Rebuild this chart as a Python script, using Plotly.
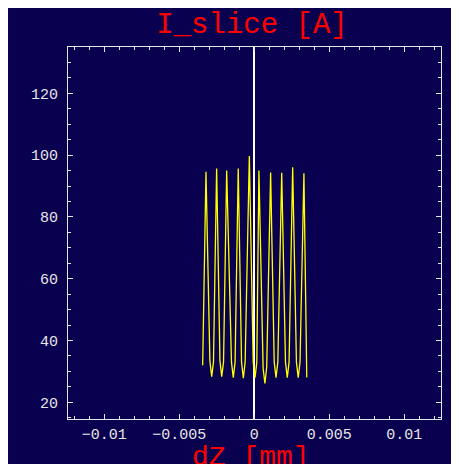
import plotly.graph_objects as go

# Data (peaks, trough bottoms and trough shoulders)
dz_mm = [-0.00344, -0.00322, -0.00296, -0.00284, -0.00272, -0.00251, -0.00229,
         -0.00217, -0.00205, -0.00184, -0.00152, -0.00140, -0.00128, -0.00107,
         -0.00085, -0.00073, -0.00061, -0.00033, -0.00007, 0.00005, 0.00017,
         0.00031, 0.00059, 0.00071, 0.00083, 0.00109, 0.00133, 0.00145,
         0.00157, 0.00183, 0.00208, 0.00220, 0.00232, 0.00256, 0.00281,
         0.00293, 0.00305, 0.00331, 0.00350]
i_slice = [32.0, 94.6, 33.5, 28.3, 33.0, 95.7, 33.5,
           28.3, 33.0, 95.0, 33.0, 28.0, 33.0, 95.7,
           33.0, 27.8, 33.0, 99.7, 33.0, 28.0, 33.0,
           95.0, 31.0, 26.1, 31.5, 94.4, 33.0, 28.0,
           33.0, 94.3, 33.0, 28.0, 33.0, 96.1, 33.0,
           28.0, 33.0, 94.1, 28.0]

x_tickvals = [-0.01, -0.005, 0, 0.005, 0.01]
x_ticktext = ["\u22120.01", "\u22120.005", "0", "0.005", "0.01"]
y_tickvals = [20, 40, 60, 80, 100, 120]
y_ticktext = ["20", "40", "60", "80", "100", "120"]

NAVY = "rgb(10,0,80)"
FRAME = "#e6e6e6"
OFF = 8  # page body margin
W, H = 459 - OFF, 464 - OFF
ML, MT = 68 - OFF, 47 - OFF
PW, PH = 373, 372
MR, MB = W - ML - PW, H - MT - PH

fig = go.Figure()
fig.add_trace(go.Scatter(x=dz_mm, y=i_slice, mode="lines",
                         line=dict(color="#ffff00", width=1.3),
                         hoverinfo="skip", showlegend=False))

tickfont = dict(family="Liberation Mono", size=15, color=FRAME)
fig.update_layout(
    width=W, height=H,
    margin=dict(l=ML, r=MR, t=MT, b=MB),
    paper_bgcolor=NAVY, plot_bgcolor=NAVY,
    title=dict(text="I_slice [A]", x=(252 - 68) / PW, xref="paper",
               xanchor="center", y=1 - (23 - OFF) / H, yref="container", yanchor="middle",
               font=dict(family="Liberation Mono", size=29, color="#ff0000")),
    xaxis=dict(range=[-0.01242, 0.01245], tickvals=x_tickvals, ticktext=x_ticktext,
               ticks="inside", ticklen=5, tickcolor=FRAME, tickwidth=1,
               showline=True, linecolor=FRAME, linewidth=1, mirror="allticks",
               showgrid=False, zeroline=True, zerolinecolor="#ffffff", zerolinewidth=1.5,
               tickfont=tickfont, ticklabelstandoff=1,
               minor=dict(dtick=0.001, tick0=0, ticks="inside", ticklen=3,
                          tickcolor=FRAME, showgrid=False)),
    yaxis=dict(range=[14.6, 135], tickvals=y_tickvals, ticktext=y_ticktext,
               ticks="inside", ticklen=5, tickcolor=FRAME, tickwidth=1,
               showline=True, linecolor=FRAME, linewidth=1, mirror="allticks",
               showgrid=False, zeroline=False,
               tickfont=tickfont, ticklabelstandoff=6,
               minor=dict(dtick=5, tick0=0, ticks="inside", ticklen=3,
                          tickcolor=FRAME, showgrid=False)),
    annotations=[dict(text="dZ [mm]", xref="paper", yref="paper",
                      x=(251 - 68) / PW, y=(419 - 458) / PH,
                      xanchor="center", yanchor="middle", showarrow=False,
                      font=dict(family="Liberation Mono", size=28, color="#ff0000"))],
)

fig.write_html("out.html")
